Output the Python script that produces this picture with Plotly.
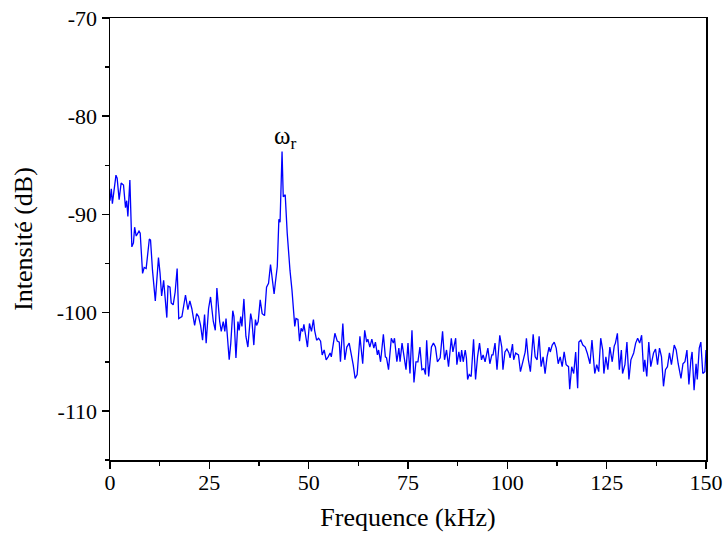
import plotly.graph_objects as go

freq_khz = [
    0.0, 0.33, 0.6, 1.5, 1.8, 2.3, 2.8, 3.4, 3.9, 4.2, 4.5, 5.0, 5.5, 5.9, 6.2, 6.6, 7.3, 7.6,
    8.2, 8.6, 9.1, 9.9, 10.2, 10.7, 11.4, 12.2, 12.6, 13.0, 13.5, 14.3, 14.6, 15.1, 15.4, 15.9,
    16.4, 16.9, 17.3, 18.1, 19.0, 19.6, 20.1, 20.6, 21.3, 21.8, 22.3, 22.8, 23.3, 23.8, 24.2,
    24.8, 25.3, 26.0, 26.5, 26.9,
    27.6, 28.0, 28.5, 28.9, 29.2, 30.0, 30.4, 30.9, 31.2, 31.7, 32.2, 32.5, 32.9, 33.2, 33.7,
    34.2, 34.7, 35.4, 35.7, 36.2, 36.6, 36.9, 37.3, 37.8, 38.3, 38.9, 39.4, 39.9, 40.4, 40.8,
    41.3, 41.6, 42.1, 42.5, 42.8, 43.3, 43.6, 44.1, 44.6, 45.3, 45.8, 46.5, 46.8, 47.3, 47.7,
    48.1, 48.5, 48.8, 49.3, 49.7, 50.2, 50.7, 51.2, 51.5, 52.0, 52.5, 53.0, 53.4, 53.9, 54.4,
    54.9, 55.4, 55.7, 56.6, 57.2, 57.7, 58.0, 58.6, 59.1, 59.6, 60.2, 60.7, 61.2, 61.7, 62.2,
    62.9, 63.6, 64.1, 64.6, 64.9, 65.4, 65.9, 66.4, 66.8, 67.3, 67.6, 68.1, 68.8, 69.3, 69.6,
    70.1, 70.8, 71.3, 71.6, 72.2, 72.7, 73.0, 73.5, 74.0, 74.5, 75.0, 75.5, 76.0, 76.5, 77.0,
    77.5, 78.0, 78.5, 79.0, 79.4, 79.7, 80.2, 80.9, 81.4, 81.9, 82.4, 83.1, 83.7, 84.2, 84.7,
    85.2, 85.9,
    86.3, 87.0, 87.3, 87.8, 88.2, 88.5, 88.9, 89.4, 89.7, 90.0, 90.4, 90.9, 91.5, 92.0, 92.5,
    93.0, 93.5, 93.9, 94.4, 95.1, 95.6, 96.1, 96.4, 96.9, 97.4, 98.1, 98.6, 98.9, 99.4, 99.9,
    100.4, 100.7, 101.3, 101.6, 102.1, 102.8, 103.3, 104.0, 104.5, 104.8, 105.3, 105.8, 106.5,
    107.0, 107.5, 108.0, 108.5, 109.0, 109.5, 110.0, 110.5, 110.8, 111.3, 111.8, 112.3, 112.8,
    113.3, 113.8, 114.3, 114.8, 115.4, 115.7, 116.2, 116.7, 117.2, 117.7,
    118.0, 118.5, 119.0, 119.6, 120.1, 120.8, 121.3, 122.0, 122.5, 123.0, 123.5, 124.0, 124.3,
    124.8, 125.3, 125.8, 126.4, 126.9, 127.2, 127.7, 128.2, 128.7, 129.0, 129.6, 130.1, 130.6,
    131.1, 131.8, 132.3, 132.8, 133.3, 133.8, 134.3, 134.6, 135.1, 135.6, 136.1, 136.8, 137.3,
    137.8, 138.3, 138.8, 139.3, 139.8, 140.3, 140.8, 141.3, 142.0, 142.5, 143.0, 143.7, 144.2,
    144.7, 145.2, 145.7, 146.2, 146.5, 147.0, 147.5, 147.8, 148.3, 148.7, 149.2, 149.7, 150.0,
]

intensity_db = [
    -88.6, -87.4, -88.9, -86.0, -86.3, -88.5, -86.8, -87.0, -89.3, -88.6, -90.2, -86.5, -93.3,
    -92.9, -91.3, -92.2, -91.7, -91.9, -96.0, -95.4, -95.5, -92.5, -92.6, -95.7, -98.8, -94.4,
    -96.0, -98.3, -96.7, -100.5, -97.3, -97.4, -99.0, -99.2, -97.9, -95.5, -100.6, -100.4,
    -98.2, -99.7, -98.8, -99.6, -101.3, -100.1, -100.4, -101.3, -102.8, -100.2, -103.1, -99.6,
    -98.4, -100.9, -101.8, -97.5,
    -100.9, -101.9, -100.9, -101.9, -100.6, -104.8, -103.1, -99.8, -100.4, -104.6, -100.9,
    -101.8, -100.4, -101.4, -98.6, -102.4, -103.5, -100.1, -100.7, -103.3, -100.7, -101.3,
    -100.9, -98.7, -100.1, -100.3, -97.4, -97.0, -95.1, -96.7, -98.1, -97.0, -95.3, -90.5,
    -90.8, -83.6, -88.2, -88.0, -91.9, -95.7, -97.7, -101.4, -100.6, -100.7, -102.9, -101.6,
    -101.9, -101.2, -102.4, -103.5, -101.1, -101.9, -100.7, -101.8, -102.8, -102.6, -102.9,
    -104.3, -103.8, -104.8,
    -104.5, -104.1, -104.5, -102.1, -102.9, -103.0, -105.0, -101.1, -104.8, -103.5, -103.1,
    -104.1, -105.3, -106.7, -106.3, -102.4, -105.2, -101.8, -103.0, -102.7, -103.5, -102.7,
    -103.6, -103.0, -104.3, -103.8, -105.0, -102.2, -104.5, -104.6, -105.8, -102.6, -103.1,
    -102.6, -105.0, -103.6, -105.0, -103.1, -104.5, -105.8, -103.1, -106.2, -101.8, -107.1,
    -105.0, -105.0, -103.5, -105.8, -105.7, -106.3, -102.8, -106.5, -103.5, -103.1, -103.5,
    -105.0, -104.6, -101.9, -104.8, -103.8, -105.5, -102.6,
    -104.0, -102.6, -105.3, -104.0, -105.0, -103.8, -105.0, -103.8, -104.6, -106.8, -106.3,
    -106.5, -102.7, -106.8, -104.5, -103.1, -104.8, -104.3, -105.0, -103.6, -105.2, -104.3,
    -104.3, -103.1, -105.8, -102.3, -103.5, -105.8, -104.0, -103.7, -104.1, -104.6, -103.2,
    -104.8, -104.1, -104.3, -106.0, -104.8, -104.0, -102.6, -104.8, -106.0, -102.2, -104.5,
    -104.8, -102.4, -105.5, -104.5, -106.2, -104.5, -103.5, -104.0, -103.3, -103.0, -103.6,
    -105.2, -104.5, -105.5, -104.0, -105.3, -105.5, -107.8, -105.5, -106.2, -104.0, -107.7,
    -103.0, -102.8, -103.3, -103.5, -104.1, -105.2, -102.8, -106.2, -105.3, -106.0, -102.6,
    -103.8, -106.2, -104.5, -105.8, -103.5, -105.0, -103.4, -103.1, -102.1, -105.8, -103.8,
    -106.2, -105.3, -103.0, -106.8, -104.8, -104.1, -103.1, -102.6, -103.1, -102.3, -106.0,
    -104.8, -106.5, -103.0, -105.5, -104.1, -103.7, -105.3, -103.6, -104.5, -107.5, -105.8,
    -105.5, -104.1, -105.3, -103.3, -103.8, -105.2, -106.7, -105.2, -105.0, -103.8, -107.3,
    -104.8, -104.0, -107.9, -105.2, -106.8, -103.6, -103.0, -106.2, -106.0, -103.8,
]

x_tick_vals = [0, 25, 50, 75, 100, 125, 150]
x_tick_text = ["0", "25", "50", "75", "100", "125", "150"]
y_tick_vals = [-110, -100, -90, -80, -70]
y_tick_text = ["-110", "-100", "-90", "-80", "-70"]

font_family = "Liberation Serif, Times New Roman, serif"

fig = go.Figure()
fig.add_trace(go.Scatter(
    x=freq_khz, y=intensity_db, mode="lines",
    line=dict(color="#0000ff", width=1.3),
    showlegend=False, hoverinfo="skip",
))

fig.add_annotation(
    x=44.0, y=-82.2, text="ω<sub>r</sub>", showarrow=False,
    font=dict(family=font_family, size=25, color="black"),
)

axis_common = dict(
    showgrid=False, zeroline=False, automargin=False,
    showline=True, linecolor="black", linewidth=1.5, mirror=True,
    ticks="outside", ticklen=7, tickwidth=1.5, tickcolor="black",
    tickfont=dict(family=font_family, size=22, color="black"),
)

fig.update_layout(
    width=725, height=549,
    margin=dict(l=110, r=19, t=18, b=89),
    paper_bgcolor="white", plot_bgcolor="white",
    font=dict(family=font_family, color="black"),
    xaxis=dict(
        range=[0, 150], tickvals=x_tick_vals, ticktext=x_tick_text,
        ticklabelstandoff=-5,
        minor=dict(tickvals=[12.5, 37.5, 62.5, 87.5, 112.5, 137.5], ticks="outside",
                   ticklen=4, tickwidth=1.5, tickcolor="black"),
        title=dict(text="Frequence (kHz)", font=dict(family=font_family, size=26), standoff=14),
        **axis_common,
    ),
    yaxis=dict(
        range=[-115, -70], tickvals=y_tick_vals, ticktext=y_tick_text,
        minor=dict(tickvals=[-115, -105, -95, -85, -75], ticks="outside",
                   ticklen=4, tickwidth=1.5, tickcolor="black"),
        title=dict(text="Intensité (dB)", font=dict(family=font_family, size=26), standoff=16),
        **axis_common,
    ),
)

fig.write_html(
    "out.html",
    config={"displayModeBar": False, "staticPlot": True},
    post_script="document.body.style.margin='0';",
)
